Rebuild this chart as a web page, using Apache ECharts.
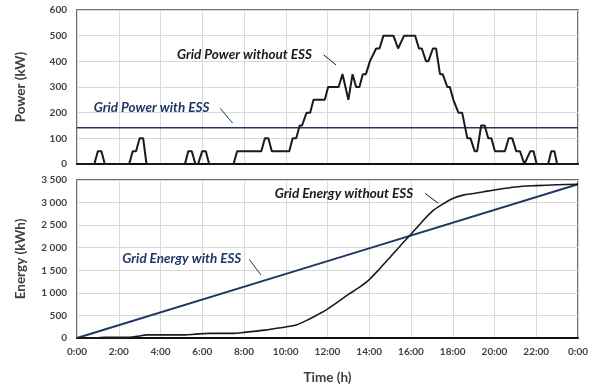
<!DOCTYPE html>
<html><head><meta charset="utf-8">
<script src="https://cdn.jsdelivr.net/npm/echarts/dist/echarts.min.js"></script>
<style>html,body{margin:0;padding:0;background:#fff}#c{width:598px;height:389px}</style>
</head><body><div id="c"></div>
<script>
// Time axis (hours), tick every 2 h
const hourMin = 0, hourMax = 24, hourStep = 2;
// Power axis ticks (kW) and energy axis ticks (kWh)
const powerTicks = [0, 100, 200, 300, 400, 500, 600];
const energyTicks = [0, 500, 1000, 1500, 2000, 2500, 3000, 3500];

// Grid power without ESS: [hour, kW]
const powerWithoutESS = [
  [0,0],[0.83,0],[1.0,50],[1.17,50],[1.33,0],
  [2.5,0],[2.67,50],[2.83,50],[3.0,100],[3.17,100],[3.33,0],
  [5.17,0],[5.33,50],[5.5,50],[5.67,0],[5.8,0],[6.0,50],[6.17,50],[6.33,0],
  [7.5,0],[7.67,50],[8.83,50],[9.0,100],[9.17,100],[9.33,50],
  [10.17,50],[10.33,100],[10.5,100],[10.67,150],[10.78,150],[11.0,200],[11.17,200],[11.33,250],
  [11.87,250],[12.03,300],[12.53,300],[12.72,350],[12.8,350],[13.0,250],[13.2,350],[13.37,300],
  [13.53,300],[13.69,350],[13.84,350],[14.03,400],[14.12,400],[14.33,450],[14.49,450],[14.68,500],
  [15.16,500],[15.38,450],[15.46,450],[15.67,500],[16.2,500],[16.38,450],[16.52,450],[16.72,400],
  [16.83,400],[17.05,450],[17.2,450],[17.39,350],[17.52,350],[17.74,300],[17.86,300],[18.03,250],
  [18.11,250],[18.27,200],[18.45,200],[18.7,100],[18.85,100],[19.05,50],[19.17,50],[19.36,150],
  [19.53,150],[19.7,100],[19.85,100],[20.02,50],[20.5,50],[20.68,100],[20.85,100],[21.04,50],
  [21.22,50],[21.43,0],[21.72,50],[21.87,50],[22.02,0],[22.57,0],[22.72,50],[22.87,50],[23.0,0],[24,0]
];
// Grid power with ESS: constant [hour, kW]
const powerWithESS = [[0,141],[24,141]];

// Grid energy without ESS: [hour, kWh]
const energyWithoutESS = [
  [0,0],[0.83,0],[1.0,5],[1.33,17],[2.5,17],[3.0,45],[3.33,70],[5.17,70],[5.67,85],[6.33,102],
  [7.5,102],[8.0,125],[9.0,175],[9.5,210],[10.0,245],[10.5,290],[11.0,390],[11.5,510],[12.0,640],
  [12.5,800],[13.0,965],[13.5,1115],[14.0,1295],[14.5,1535],[15.0,1790],[15.5,2050],[16.0,2300],
  [16.5,2560],[17.0,2800],[17.5,2960],[18.0,3090],[18.5,3165],[19.0,3200],[19.5,3240],[20.0,3280],
  [21.0,3345],[22.0,3375],[23.0,3395],[24,3405]
];
// Grid energy with ESS: [hour, kWh]
const energyWithESS = [[0,0],[12,1702],[24,3405]];

// Annotation texts and anchors (data coordinates)
const annPowerWithout = {text:'Grid Power without ESS', at:[8.02,425], lead:[[11.82,425],[12.41,386]]};
const annPowerWith = {text:'Grid Power with ESS', at:[3.57,221], lead:[[6.86,217],[7.46,159]]};
const annEnergyWith = {text:'Grid Energy with ESS', at:[5.02,1765], lead:[[8.25,1743],[8.81,1396]]};
const annEnergyWithout = {text:'Grid Energy without ESS', at:[12.79,3205], lead:[[16.67,3205],[17.31,2984]]};

const FONT = 'Lato';
const NAVY = '#1f3864';
const INK = '#1a1a1a';
const LABEL = '#404040';
const GRIDC = '#d9d9d9';

function thou(v){ return String(v).replace(/\B(?=(\d{3})+(?!\d))/g, ' '); }
function hourFmt(v){ return (Math.round(v) % 24) + ':00'; }

function ann(a, color){
  return {
    markPoint: {
      symbol:'circle', symbolSize:1, silent:true, animation:false,
      itemStyle:{color:'rgba(0,0,0,0)'},
      label:{show:true, position:'inside', formatter:a.text, color:color,
        fontFamily:FONT, fontStyle:'italic', fontWeight:'bold', fontSize:13.5},
      data:[{coord:a.at}]
    },
    markLine: {
      symbol:['none','none'], silent:true, animation:false,
      label:{show:false},
      lineStyle:{color:color, width:1, type:'solid'},
      data:[[{coord:a.lead[0]},{coord:a.lead[1]}]]
    }
  };
}

const xCommon = {
  type:'value', min:hourMin, max:hourMax, interval:hourStep,
  splitLine:{show:true, lineStyle:{color:GRIDC, width:1}},
  axisTick:{show:false},
  axisLine:{show:true, lineStyle:{color:'#111', width:2}}
};

const chart = echarts.init(document.getElementById('c'), null, {renderer:'canvas'});
chart.setOption({
  animation:false,
  backgroundColor:'#fff',
  grid:[
    {left:77, right:20, top:10, height:154, show:true, borderColor:'#404040', borderWidth:1.5},
    {left:77, right:20, top:180, height:158, show:true, borderColor:'#404040', borderWidth:1.5}
  ],
  xAxis:[
    Object.assign({}, xCommon, {gridIndex:0, axisLabel:{show:false}}),
    Object.assign({}, xCommon, {gridIndex:1,
      axisLabel:{show:true, formatter:hourFmt, color:LABEL, fontFamily:FONT, fontWeight:'bold', fontSize:10, margin:9},
      name:'Time (h)', nameLocation:'middle', nameGap:33,
      nameTextStyle:{color:LABEL, fontFamily:FONT, fontWeight:'bold', fontSize:13.5}})
  ],
  yAxis:[
    {type:'value', gridIndex:0, min:powerTicks[0], max:powerTicks[powerTicks.length-1], interval:powerTicks[1]-powerTicks[0],
     axisLine:{show:false}, axisTick:{show:false},
     splitLine:{show:true, lineStyle:{color:GRIDC, width:1}},
     axisLabel:{color:LABEL, fontFamily:FONT, fontWeight:'bold', fontSize:10, margin:10},
     name:'Power (kW)', nameLocation:'middle', nameGap:49,
     nameTextStyle:{color:LABEL, fontFamily:FONT, fontWeight:'bold', fontSize:13.5}},
    {type:'value', gridIndex:1, min:energyTicks[0], max:energyTicks[energyTicks.length-1], interval:energyTicks[1]-energyTicks[0],
     axisLine:{show:false}, axisTick:{show:false},
     splitLine:{show:true, lineStyle:{color:GRIDC, width:1}},
     axisLabel:{color:LABEL, fontFamily:FONT, fontWeight:'bold', fontSize:10, margin:10, formatter:thou},
     name:'Energy (kWh)', nameLocation:'middle', nameGap:49,
     nameTextStyle:{color:LABEL, fontFamily:FONT, fontWeight:'bold', fontSize:13.5}}
  ],
  series:[
    Object.assign({type:'line', name:'Grid Power with ESS', xAxisIndex:0, yAxisIndex:0, data:powerWithESS,
      showSymbol:false, lineStyle:{color:NAVY, width:1.6}, z:3}, ann(annPowerWith, NAVY)),
    Object.assign({type:'line', name:'Grid Power without ESS', xAxisIndex:0, yAxisIndex:0, data:powerWithoutESS,
      showSymbol:false, lineStyle:{color:INK, width:2}, z:4}, ann(annPowerWithout, INK)),
    Object.assign({type:'line', name:'Grid Energy with ESS', xAxisIndex:1, yAxisIndex:1, data:energyWithESS,
      showSymbol:false, lineStyle:{color:NAVY, width:2}, z:3}, ann(annEnergyWith, NAVY)),
    Object.assign({type:'line', name:'Grid Energy without ESS', xAxisIndex:1, yAxisIndex:1, data:energyWithoutESS,
      showSymbol:false, smooth:0.3, lineStyle:{color:INK, width:1.6}, z:4}, ann(annEnergyWithout, INK))
  ]
});
</script>
</body></html>
